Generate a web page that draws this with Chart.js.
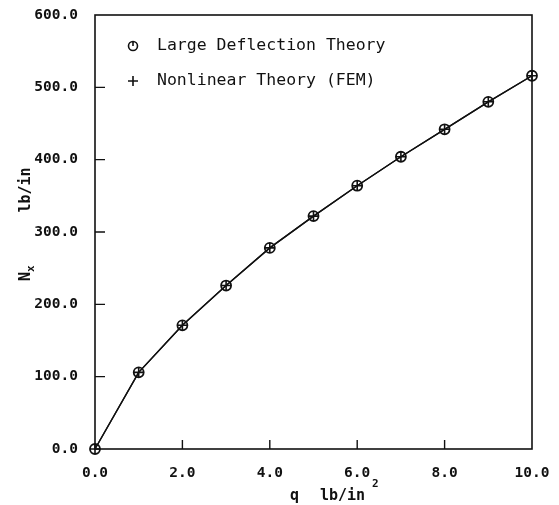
<!DOCTYPE html>
<html>
<head>
<meta charset="utf-8">
<script src="https://cdn.jsdelivr.net/npm/chart.js@4/dist/chart.umd.min.js"></script>
<style>
  html, body { margin: 0; padding: 0; background: #fff; }
  #chart { display: block; }
</style>
</head>
<body>
<canvas id="chart" width="559" height="505"></canvas>
<script>
// load q (lb/in^2) and membrane force Nx (lb/in)
const qValues = [0, 1, 2, 3, 4, 5, 6, 7, 8, 9, 10];
const largeDeflection = [0, 106, 171, 226, 278, 322, 364, 404, 442, 480, 516];
const nonlinearFEM = [0, 106, 171, 226, 278, 322, 364, 404, 442, 480, 516];
const xTicks = [0, 2, 4, 6, 8, 10];
const yTicks = [0, 100, 200, 300, 400, 500, 600];
const seriesNames = ['Large Deflection Theory', 'Nonlinear Theory (FEM)'];

const ink = '#111';
const mono = '"DejaVu Sans Mono", "Liberation Mono", monospace';

// box, inward ticks, legend and axis titles
const plotterBits = {
    id: 'plotterBits',
    afterDraw(chart) {
        const ctx = chart.ctx;
        const a = chart.chartArea;
        const xs = chart.scales.x;
        const ys = chart.scales.y;
        ctx.save();
        ctx.strokeStyle = ink;
        ctx.lineWidth = 1.6;
        ctx.strokeRect(a.left, a.top, a.right - a.left, a.bottom - a.top);

        ctx.lineWidth = 1.4;
        ctx.beginPath();
        yTicks.slice(1, -1).forEach(v => {
            const y = ys.getPixelForValue(v);
            ctx.moveTo(a.left, y);
            ctx.lineTo(a.left + 10, y);
        });
        xTicks.slice(1, -1).forEach(v => {
            const x = xs.getPixelForValue(v);
            ctx.moveTo(x, a.bottom);
            ctx.lineTo(x, a.bottom - 9);
        });
        ctx.stroke();

        // legend
        ctx.fillStyle = ink;
        ctx.font = '16.5px ' + mono;
        ctx.textBaseline = 'middle';
        ctx.textAlign = 'left';
        ctx.lineWidth = 1.6;
        ctx.beginPath();
        ctx.arc(133, 46, 4.5, 0, Math.PI * 2);
        ctx.moveTo(133, 41.5);
        ctx.lineTo(133, 46);
        ctx.stroke();
        ctx.fillText(seriesNames[0], 157, 46);
        ctx.beginPath();
        ctx.moveTo(128, 81);
        ctx.lineTo(138, 81);
        ctx.moveTo(133, 76);
        ctx.lineTo(133, 86);
        ctx.stroke();
        ctx.fillText(seriesNames[1], 157, 81);

        // x axis title
        ctx.font = 'bold 15px ' + mono;
        ctx.textBaseline = 'alphabetic';
        ctx.fillText('q', 290, 500);
        ctx.fillText('lb/in', 320, 500);
        ctx.font = 'bold 11px ' + mono;
        ctx.fillText('2', 372, 487);

        // y axis title (rotated)
        ctx.save();
        ctx.translate(30, 190);
        ctx.rotate(-Math.PI / 2);
        ctx.font = 'bold 15px ' + mono;
        ctx.textAlign = 'center';
        ctx.fillText('lb/in', 0, 0);
        ctx.restore();
        ctx.save();
        ctx.translate(30, 281);
        ctx.rotate(-Math.PI / 2);
        ctx.font = 'bold 15px ' + mono;
        ctx.textAlign = 'left';
        ctx.fillText('N', 0, 0);
        ctx.font = 'bold 11px ' + mono;
        ctx.fillText('x', 9, 4);
        ctx.restore();

        ctx.restore();
    }
};

// drop the extra room chart.js keeps for half labels at the ends
function noEndPadding(s) {
    s.paddingTop = 0;
    s.paddingBottom = 0;
    s.paddingLeft = 0;
    s.paddingRight = 0;
}

new Chart(document.getElementById('chart'), {
    type: 'line',
    data: {
        labels: qValues,
        datasets: [{
            label: seriesNames[0],
            data: qValues.map((q, i) => ({ x: q, y: largeDeflection[i] })),
            borderColor: ink,
            borderWidth: 1.4,
            pointStyle: 'circle',
            pointRadius: 5,
            pointBorderWidth: 1.8,
            pointBorderColor: ink,
            pointBackgroundColor: 'rgba(0,0,0,0)',
            tension: 0,
            clip: false
        }, {
            label: seriesNames[1],
            data: qValues.map((q, i) => ({ x: q, y: nonlinearFEM[i] })),
            borderColor: ink,
            borderWidth: 1.4,
            pointStyle: 'cross',
            pointRadius: 5,
            pointBorderWidth: 1.6,
            pointBorderColor: ink,
            tension: 0,
            clip: false
        }]
    },
    options: {
        responsive: false,
        animation: false,
        layout: { padding: { left: 0, right: 27, top: 15, bottom: 0 } },
        plugins: {
            legend: { display: false },
            tooltip: { enabled: false }
        },
        scales: {
            x: {
                type: 'linear',
                min: 0,
                max: 10,
                afterFit: s => { s.height = 56; noEndPadding(s); },
                afterBuildTicks: s => { s.ticks = xTicks.map(v => ({ value: v })); },
                grid: { display: false, tickLength: 0 },
                border: { display: false },
                ticks: {
                    color: ink,
                    padding: 16,
                    maxRotation: 0,
                    font: { family: mono, size: 14.5, weight: 'bold' },
                    callback: v => v.toFixed(1)
                }
            },
            y: {
                type: 'linear',
                min: 0,
                max: 600,
                afterFit: s => { s.width = 95; noEndPadding(s); },
                afterBuildTicks: s => { s.ticks = yTicks.map(v => ({ value: v })); },
                grid: { display: false, tickLength: 0 },
                border: { display: false },
                ticks: {
                    color: ink,
                    padding: 17,
                    font: { family: mono, size: 14.5, weight: 'bold' },
                    callback: v => v.toFixed(1)
                }
            }
        }
    },
    plugins: [plotterBits]
});
</script>
</body>
</html>
